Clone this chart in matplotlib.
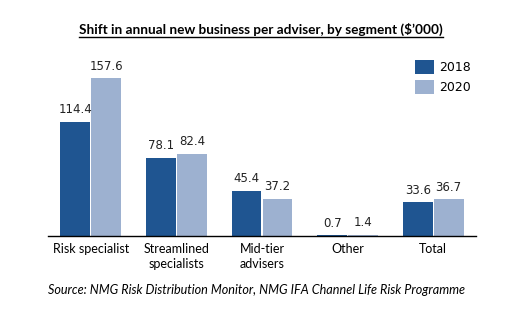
import matplotlib
matplotlib.use("Agg")
import matplotlib.pyplot as plt
from matplotlib.lines import Line2D
import numpy as np

categories = ["Risk specialist", "Streamlined\nspecialists", "Mid-tier\nadvisers", "Other", "Total"]
series_names = ["2018", "2020"]
values_2018 = [114.4, 78.1, 45.4, 0.7, 33.6]
values_2020 = [157.6, 82.4, 37.2, 1.4, 36.7]
title = "Shift in annual new business per adviser, by segment ($\u2019000)"
source = "Source: NMG Risk Distribution Monitor, NMG IFA Channel Life Risk Programme"

c2018 = "#1F5591"
c2020 = "#9DB1D0"

W, H = 529, 326
fig = plt.figure(figsize=(W/100, H/100), dpi=100)
ax = fig.add_axes([48/W, (H-236)/H, 428/W, 180/H])
x = np.arange(len(categories))
bw = 0.35
b1 = ax.bar(x - bw/2 - 0.006, values_2018, bw, color=c2018, label=series_names[0])
b2 = ax.bar(x + bw/2 + 0.006, values_2020, bw, color=c2020, label=series_names[1])
ax.set_xlim(-0.5, 4.5)
ax.set_ylim(0, 180)
for s in ["top", "right", "left"]:
    ax.spines[s].set_visible(False)
ax.spines["bottom"].set_color("black")
ax.spines["bottom"].set_linewidth(1.0)
ax.set_yticks([])
ax.set_xticks(x)
ax.set_xticklabels(categories, fontsize=9, family="Lato", linespacing=1.3)
ax.tick_params(axis="x", length=0, pad=5)

for bars, vals in ((b1, values_2018), (b2, values_2020)):
    for r, v in zip(bars, vals):
        ax.annotate(f"{v:.1f}", (r.get_x() + r.get_width()/2, r.get_height()),
                    xytext=(0, 4), textcoords="offset points", ha="center", va="bottom",
                    fontsize=8.5, family="DejaVu Sans", color="#222222")

leg = ax.legend(loc="upper left", bbox_to_anchor=(404/W, (H-49)/H), bbox_transform=fig.transFigure,
                frameon=False, handlelength=1.5, handleheight=1.3,
                labelspacing=0.45, handletextpad=0.45, prop={"family": "DejaVu Sans", "size": 9})

t = fig.text(261/W, (H-34)/H, title, ha="center", va="baseline", fontsize=9.8,
             fontweight="bold", family="Lato")
fig.text(256/W, (H-294)/H, source, ha="center", va="baseline", fontsize=9.1,
         style="italic", family="Lato")

fig.canvas.draw()
bb = t.get_window_extent().transformed(fig.transFigure.inverted())
uy = (H-37)/H
fig.add_artist(Line2D([bb.x0, bb.x1], [uy, uy], transform=fig.transFigure, color="black", lw=1.0))

fig.savefig("out.png", dpi=100)
